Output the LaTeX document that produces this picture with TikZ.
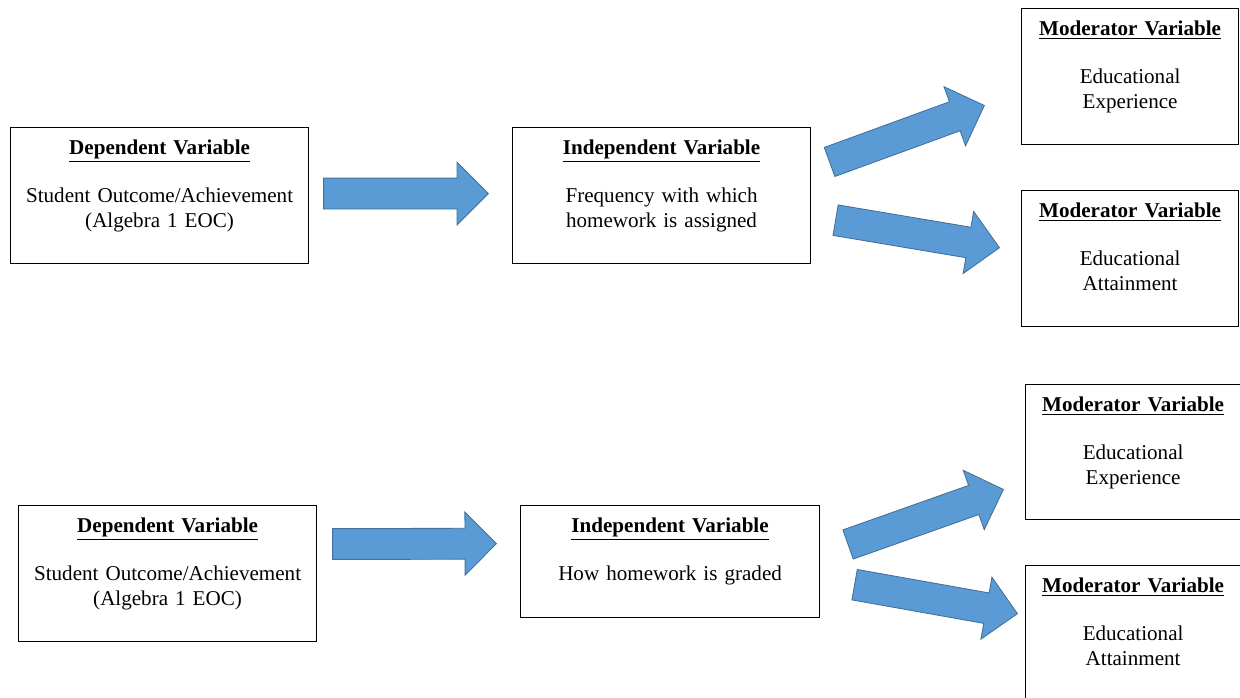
\documentclass[tikz,border=0pt]{standalone}
\usepackage{fontspec}
\setmainfont{Liberation Serif}
\usepackage{tikz}
\usetikzlibrary{shapes.arrows,calc,positioning}

\definecolor{arrowblue}{HTML}{5B9BD5}
\definecolor{arrowedge}{HTML}{41719C}

% block arrow from one coordinate to another
\newcommand{\blockarrow}[2]{%
  \path let \p1=(#1), \p2=(#2), \n1={veclen(\x2-\x1,\y2-\y1)} in
    (#1) -- node[fatarrow, pos=0, anchor=tail, sloped, minimum height=\n1] {} (#2);}

\begin{document}
\begin{tikzpicture}[
    x=0.02cm, y=-0.02cm,
    varbox/.style 2 args={draw, line width=0.7pt, anchor=north west, inner sep=0pt,
        align=center, text width=#1, text height=0.54cm, text depth=#2,
        font=\fontsize{12pt}{14.2pt}\selectfont},
    fatarrow/.style={single arrow, draw=arrowedge, fill=arrowblue, line width=0.5pt,
        inner sep=0pt, text height=0.3cm, text depth=0.3cm,
        single arrow head extend=0.32cm, single arrow tip angle=90}
]
    \useasboundingbox (0,0) rectangle (1240,697);

    % upper model
    \node[varbox={5.96cm}{2.18cm}] (dep1) at (10,127)
        {\underline{\textbf{Dependent Variable}}\\[13pt]Student Outcome/Achievement\\(Algebra 1 EOC)};
    \node[varbox={5.96cm}{2.18cm}] (ind1) at (512,127)
        {\underline{\textbf{Independent Variable}}\\[13pt]Frequency with which\\homework is assigned};
    \node[varbox={4.34cm}{2.18cm}] (mod1a) at (1021,8)
        {\underline{\textbf{Moderator Variable}}\\[13pt]Educational\\Experience};
    \node[varbox={4.34cm}{2.18cm}] (mod1b) at (1021,190)
        {\underline{\textbf{Moderator Variable}}\\[13pt]Educational\\Attainment};

    % lower model
    \node[varbox={5.96cm}{2.18cm}] (dep2) at (18,505)
        {\underline{\textbf{Dependent Variable}}\\[13pt]Student Outcome/Achievement\\(Algebra 1 EOC)};
    \node[varbox={5.98cm}{1.7cm}] (ind2) at (520,505)
        {\underline{\textbf{Independent Variable}}\\[13pt]How homework is graded};
    \node[varbox={4.3cm}{2.16cm}] (mod2a) at (1025,384)
        {\underline{\textbf{Moderator Variable}}\\[13pt]Educational\\Experience};
    \node[varbox={4.3cm}{2.18cm}] (mod2b) at (1025,565)
        {\underline{\textbf{Moderator Variable}}\\[13pt]Educational\\Attainment};

    % arrow ends
    \coordinate (a1s) at ($(dep1.east)+(14,-2)$);
    \coordinate (a1e) at ($(ind1.west)+(-24,-2)$);
    \coordinate (a2s) at ($(ind1.east)+(18,-33.5)$);
    \coordinate (a2e) at ($(mod1a.west)+(-37,29)$);
    \coordinate (a3s) at ($(ind1.east)+(24,24.5)$);
    \coordinate (a3e) at ($(mod1b.west)+(-22,-11)$);
    \coordinate (b1s) at ($(dep2.east)+(15,-29.5)$);
    \coordinate (b1e) at ($(ind2.west)+(-24,-18)$);
    \coordinate (b2s) at ($(ind2.east)+(27.5,-17)$);
    \coordinate (b2e) at ($(mod2a.west)+(-22,37.5)$);
    \coordinate (b3s) at ($(ind2.east)+(34,23)$);
    \coordinate (b3e) at ($(mod2b.west)+(-8,-20)$);

    \blockarrow{a1s}{a1e}
    \blockarrow{a2s}{a2e}
    \blockarrow{a3s}{a3e}
    \blockarrow{b1s}{b1e}
    \blockarrow{b2s}{b2e}
    \blockarrow{b3s}{b3e}
\end{tikzpicture}
\end{document}
